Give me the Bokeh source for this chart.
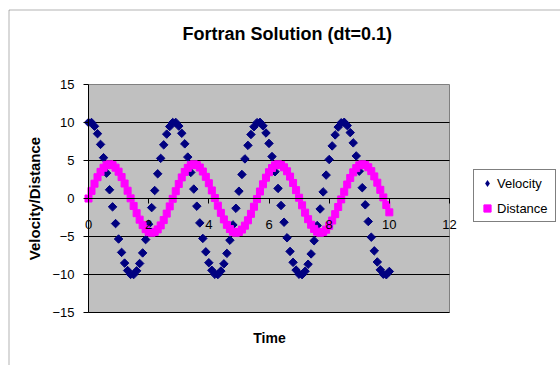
import math
from bokeh.plotting import figure
from bokeh.models import Range1d, FixedTicker, Legend, LegendItem, Label, BoxAnnotation
from bokeh.embed import file_html
from bokeh.resources import INLINE

time = [0.0, 0.1, 0.2, 0.3, 0.4, 0.5, 0.6, 0.7, 0.8, 0.9,
        1.0, 1.1, 1.2, 1.3, 1.4, 1.5, 1.6, 1.7, 1.8, 1.9,
        2.0, 2.1, 2.2, 2.3, 2.4, 2.5, 2.6, 2.7, 2.8, 2.9,
        3.0, 3.1, 3.2, 3.3, 3.4, 3.5, 3.6, 3.7, 3.8, 3.9,
        4.0, 4.1, 4.2, 4.3, 4.4, 4.5, 4.6, 4.7, 4.8, 4.9,
        5.0, 5.1, 5.2, 5.3, 5.4, 5.5, 5.6, 5.7, 5.8, 5.9,
        6.0, 6.1, 6.2, 6.3, 6.4, 6.5, 6.6, 6.7, 6.8, 6.9,
        7.0, 7.1, 7.2, 7.3, 7.4, 7.5, 7.6, 7.7, 7.8, 7.9,
        8.0, 8.1, 8.2, 8.3, 8.4, 8.5, 8.6, 8.7, 8.8, 8.9,
        9.0, 9.1, 9.2, 9.3, 9.4, 9.5, 9.6, 9.7, 9.8, 9.9,
        10.0]

velocity = [10.0, 10.0, 9.5, 8.53, 7.12, 5.37, 3.34, 1.15, -1.10, -3.30,
            -5.33, -7.09, -8.50, -9.48, -9.99, -10.01, -9.52, -8.55, -7.16, -5.41,
            -3.39, -1.20, 1.05, 3.25, 5.28, 7.06, 8.47, 9.47, 9.99, 10.01,
            9.53, 8.58, 7.19, 5.45, 3.43, 1.24, -1.01, -3.21, -5.25, -7.02,
            -8.45, -9.45, -9.98, -10.01, -9.55, -8.60, -7.22, -5.49, -3.47, -1.29,
            0.96, 3.16, 5.21, 6.99, 8.42, 9.44, 9.98, 10.02, 9.56, 8.62,
            7.25, 5.52, 3.52, 1.33, -0.92, -3.12, -5.17, -6.96, -8.40, -9.42,
            -9.97, -10.02, -9.57, -8.65, -7.29, -5.56, -3.56, -1.38, 0.87, 3.08,
            5.13, 6.92, 8.37, 9.40, 9.96, 10.03, 9.59, 8.67, 7.32, 5.60,
            3.60, 1.42, -0.83, -3.03, -5.09, -6.89, -8.35, -9.39, -9.96, -10.03,
            -9.60]

distance = [0.0, 1.0, 1.95, 2.80, 3.51, 4.05, 4.39, 4.50, 4.39, 4.06,
            3.53, 2.82, 1.97, 1.02, 0.02, -0.98, -1.93, -2.78, -3.50, -4.04,
            -4.38, -4.50, -4.39, -4.07, -3.54, -2.84, -1.99, -1.04, -0.04, 0.96,
            1.91, 2.77, 3.49, 4.03, 4.38, 4.50, 4.40, 4.08, 3.55, 2.85,
            2.01, 1.06, 0.06, -0.94, -1.89, -2.75, -3.47, -4.02, -4.37, -4.50,
            -4.40, -4.09, -3.57, -2.87, -2.02, -1.08, -0.08, 0.92, 1.87, 2.74,
            3.46, 4.01, 4.37, 4.50, 4.41, 4.10, 3.58, 2.88, 2.04, 1.10,
            0.10, -0.90, -1.86, -2.72, -3.45, -4.00, -4.36, -4.50, -4.41, -4.10,
            -3.59, -2.90, -2.06, -1.12, -0.12, 0.88, 1.84, 2.70, 3.44, 4.00,
            4.36, 4.50, 4.42, 4.11, 3.60, 2.91, 2.08, 1.14, 0.14, -0.86,
            -1.82]

x_ticks = [0, 2, 4, 6, 8, 10, 12]
y_ticks = [-15, -10, -5, 0, 5, 10, 15]
grid_ticks = [-15, -10, -5, 0, 5, 10]

FONT = "Liberation Sans"
NAVY = "#000080"
MAGENTA = "#FF00FF"

# ---- layout (pixels) ----
W, H = 560, 365
PA_LEFT, PA_RIGHT, PA_TOP, PA_BOTTOM = 88, 449, 84, 312   # plot area inside the canvas
kx = (PA_RIGHT - PA_LEFT) / (x_ticks[-1] - x_ticks[0])     # px per x unit
ky = (PA_BOTTOM - PA_TOP) / (y_ticks[-1] - y_ticks[0])     # px per y unit


def dx(px):
    return x_ticks[0] + (px - PA_LEFT) / kx


def dy(py):
    return y_ticks[-1] - (py - PA_TOP) / ky


# the frame spans the whole canvas so nothing is clipped; the grey plot area is a quad
p = figure(width=W, height=H, output_backend="svg", toolbar_location=None,
           x_range=Range1d(dx(0), dx(W)), y_range=Range1d(dy(H), dy(0)),
           min_border_left=0, min_border_right=0, min_border_top=0, min_border_bottom=0,
           background_fill_color="white", border_fill_color="white")
p.outline_line_color = None
p.xgrid.visible = False
p.ygrid.visible = False

# chart border (outer frame, only its left and top edges fall inside the window)
p.add_layout(BoxAnnotation(left=dx(8.5), right=dx(W + 20), top=dy(9.5), bottom=dy(H + 20),
                           fill_color=None, fill_alpha=0, line_color="black", line_width=1))

# plot area (grey) with its grey border
p.quad(left=[x_ticks[0]], right=[x_ticks[-1]], bottom=[y_ticks[0]], top=[y_ticks[-1]],
       fill_color="#C0C0C0", line_color="#808080", line_width=1)
# horizontal gridlines
p.segment(x0=[x_ticks[0]] * len(grid_ticks), x1=[x_ticks[-1]] * len(grid_ticks),
          y0=grid_ticks, y1=grid_ticks, line_color="black", line_width=1)

# y axis at x = 0
p.yaxis.fixed_location = x_ticks[0]
p.yaxis.bounds = (y_ticks[0], y_ticks[-1])
p.yaxis.ticker = FixedTicker(ticks=y_ticks)
p.yaxis.axis_line_color = "black"
p.yaxis.major_tick_line_color = "black"
p.yaxis.major_tick_out = 5
p.yaxis.major_tick_in = 0
p.yaxis.minor_tick_out = 0
p.yaxis.minor_tick_in = 0
p.yaxis.major_label_text_font = FONT
p.yaxis.major_label_text_font_size = "13px"
p.yaxis.major_label_text_color = "black"
p.yaxis.major_label_standoff = 9
p.yaxis.axis_label = "Velocity/Distance"
p.yaxis.axis_label_text_font = FONT
p.yaxis.axis_label_text_font_size = "15px"
p.yaxis.axis_label_text_font_style = "bold"
p.yaxis.axis_label_text_color = "black"
p.yaxis.axis_label_standoff = 6

# x axis crossing at y = 0
p.xaxis.fixed_location = 0
p.xaxis.bounds = (x_ticks[0], x_ticks[-1])
p.xaxis.ticker = FixedTicker(ticks=x_ticks)
p.xaxis.axis_line_color = "black"
p.xaxis.major_tick_line_color = "black"
p.xaxis.major_tick_out = 5
p.xaxis.major_tick_in = 0
p.xaxis.minor_tick_out = 0
p.xaxis.minor_tick_in = 0
p.xaxis.major_label_text_font = FONT
p.xaxis.major_label_text_font_size = "13px"
p.xaxis.major_label_text_color = "black"
p.xaxis.major_label_standoff = 16

# title and x-axis title
p.add_layout(Label(x=dx(182), y=dy(33), text="Fortran Solution (dt=0.1)",
                   text_align="left", text_baseline="alphabetic",
                   text_font=FONT, text_font_size="18px", text_font_style="bold",
                   text_color="black"))
p.add_layout(Label(x=dx(269), y=dy(337), text="Time",
                   text_align="center", text_baseline="middle",
                   text_font=FONT, text_font_size="14px", text_font_style="bold",
                   text_color="black"))

r1 = p.scatter(time, velocity, marker="square", angle=math.pi / 4, size=6,
               fill_color=NAVY, line_color=NAVY)
r2 = p.scatter(time, distance, marker="square", size=7,
               fill_color=MAGENTA, line_color=MAGENTA)
# legend key for the velocity series: diamond symbol, zero size in the plot itself
k1 = p.scatter(time[:1], velocity[:1], marker="diamond", size=0,
               fill_color=NAVY, line_color=None)

legend = Legend(items=[LegendItem(label="Velocity", renderers=[k1]),
                       LegendItem(label="Distance", renderers=[r2])],
                location=(473, H - 222), padding=4, spacing=7, margin=0,
                glyph_width=18, glyph_height=18, label_height=18, label_width=54,
                label_standoff=1,
                label_text_font=FONT, label_text_font_size="13px", label_text_color="black",
                border_line_color="black", border_line_width=1,
                background_fill_color="white", background_fill_alpha=1.0)
p.add_layout(legend)

open("out.html", "w").write(file_html(p, INLINE))
